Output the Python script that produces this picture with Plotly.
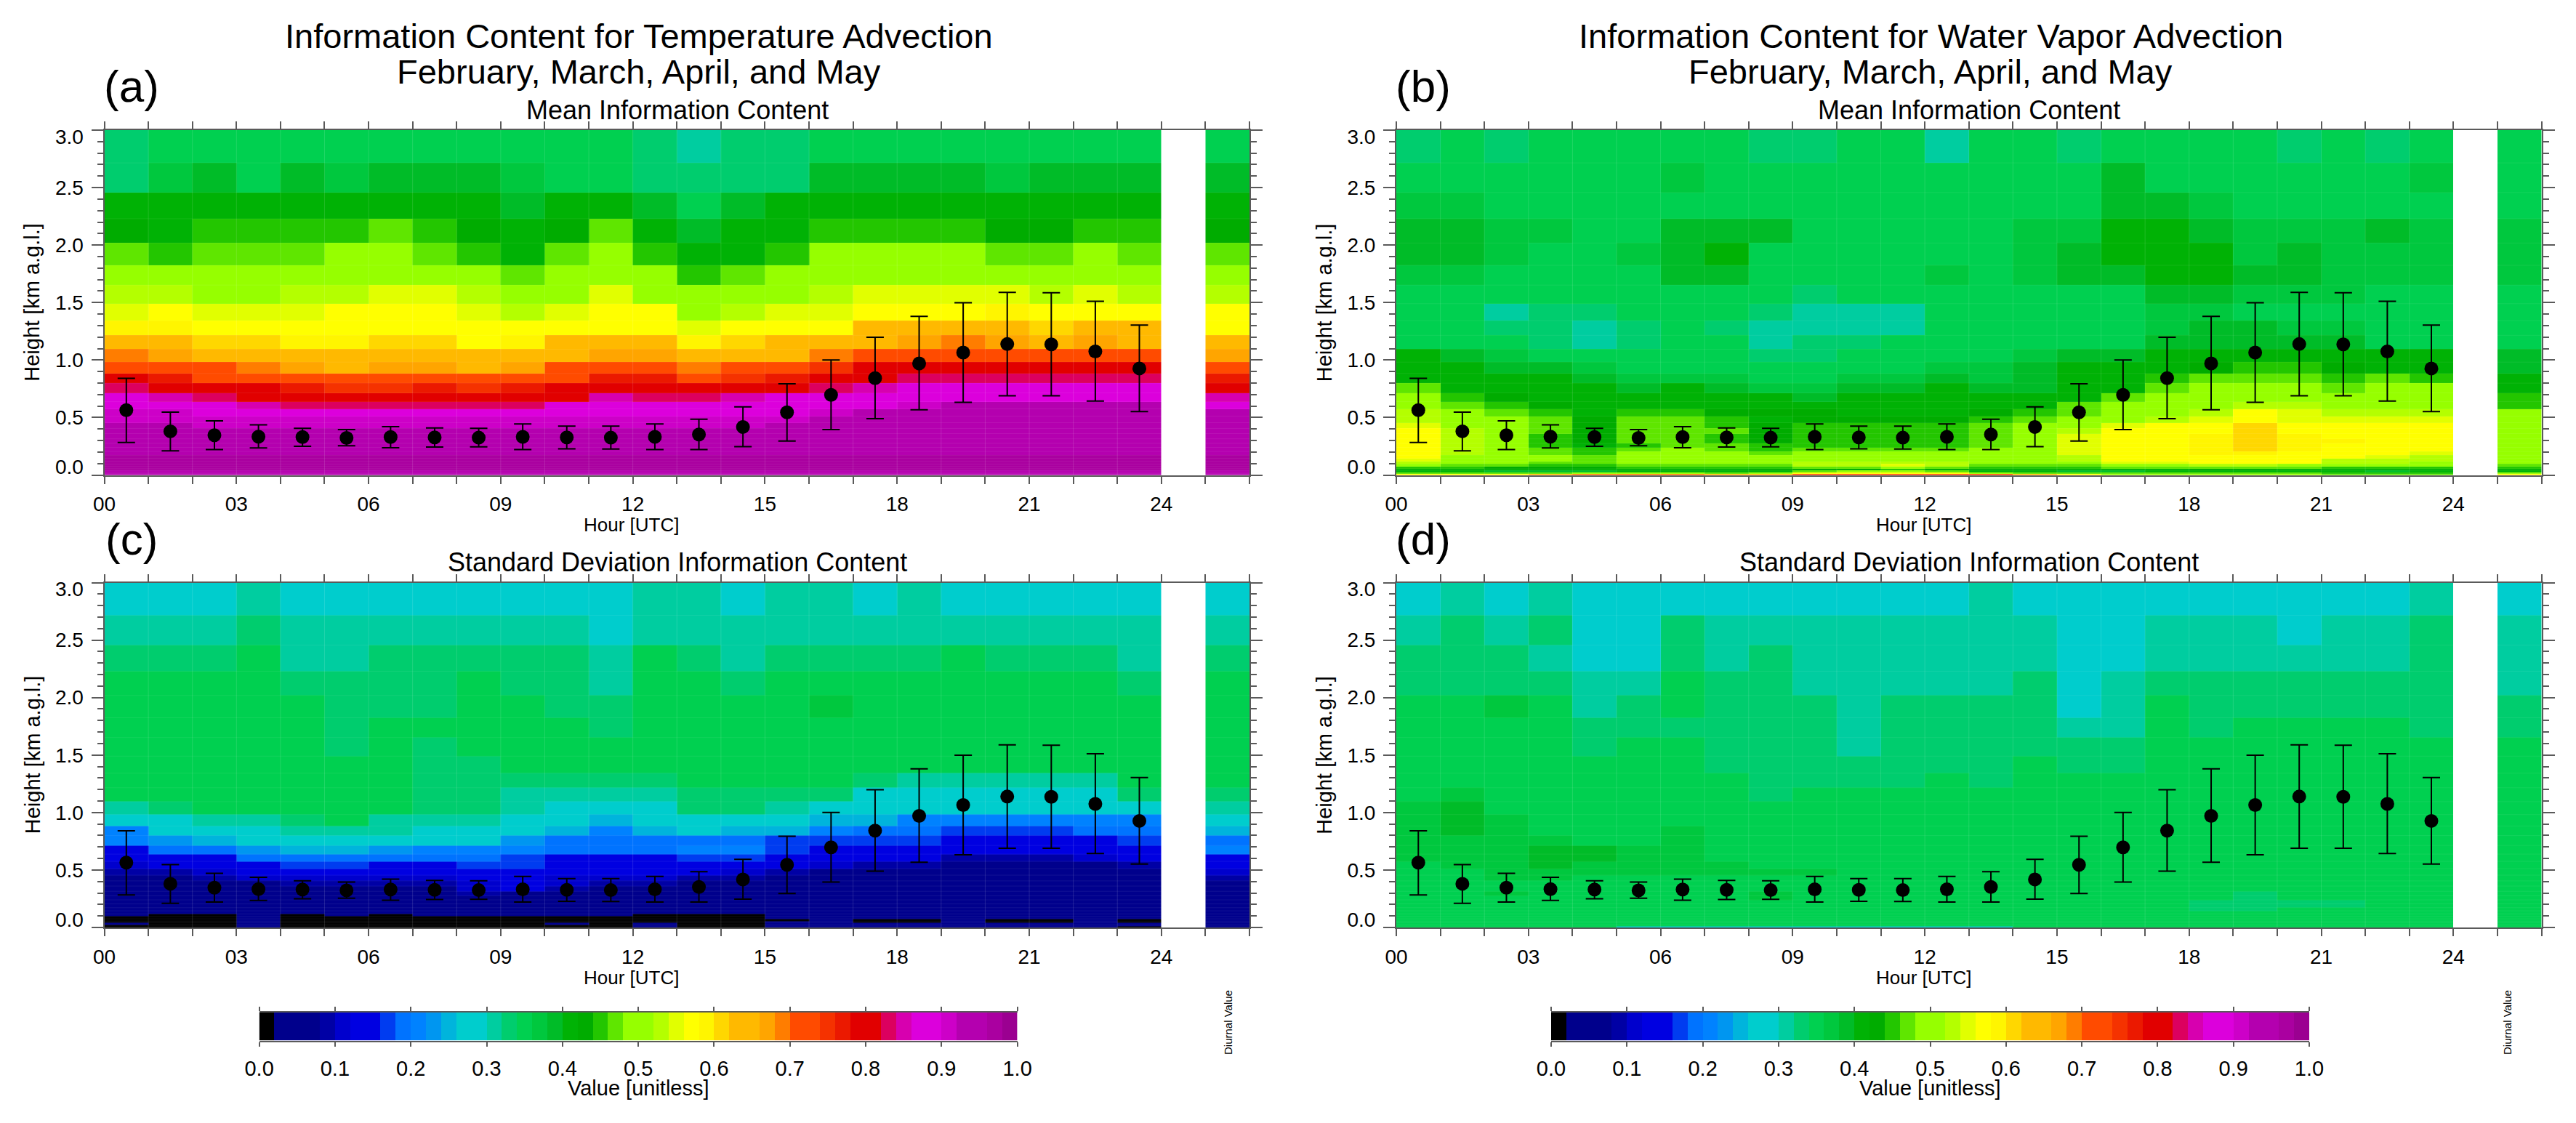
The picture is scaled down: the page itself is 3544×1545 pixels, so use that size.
import plotly.graph_objects as go

W, H = 3544, 1545

# ---------- data ----------
HOUR_EDGES = list(range(27))          # 0..24 hours, gap column, diurnal column
HEIGHT_EDGES = [0, .012, .025, .04, .055, .075, .095, .118, .145, .172, .205, .24, .275, .315, .36, .405, .455,
                .512, .575, .638, .714, .799, .883, .982, 1.094, 1.215, 1.342, 1.49, 1.652, 1.824, 2.018,
                2.229, 2.457, 2.715, 3.0]
X_TICK_LABELS = ["00", "", "", "03", "", "", "06", "", "", "09", "", "", "12", "", "", "15", "", "", "18", "", "", "21", "", "", "24", "", ""]
Y_TICK_LABELS = ["0.0", "0.5", "1.0", "1.5", "2.0", "2.5", "3.0"]
CB_TICKS = [0, .1, .2, .3, .4, .5, .6, .7, .8, .9, 1.0]
CB_LABELS = ["0.0", "0.1", "0.2", "0.3", "0.4", "0.5", "0.6", "0.7", "0.8", "0.9", "1.0"]

DOT_X = [.5, 1.5, 2.5, 3.5, 4.5, 5.5, 6.5, 7.5, 8.5, 9.5, 10.5, 11.5, 12.5, 13.5, 14.5, 15.5, 16.5, 17.5, 18.5, 19.5, 20.5, 21.5, 22.5, 23.5]
DOT_MEAN = [.564, .38, .346, .334, .33, .323, .33, .327, .325, .332, .327, .325, .332, .353, .418, .545, .697, .843, .97, 1.065, 1.139, 1.137, 1.075, .927]
DOT_HIGH = [.841, .547, .471, .437, .406, .395, .42, .41, .406, .444, .425, .425, .444, .486, .592, .794, 1.001, 1.198, 1.38, 1.498, 1.589, 1.585, 1.511, 1.304]
DOT_LOW = [.283, .211, .222, .235, .249, .254, .237, .243, .245, .222, .228, .226, .222, .222, .247, .296, .395, .49, .568, .632, .689, .689, .644, .551]

PALETTE = ["rgb(0,0,0)", "rgb(0,0,140)", "rgb(0,0,140)", "rgb(0,0,140)", "rgb(0,0,165)", "rgb(0,0,205)", "rgb(0,0,225)", "rgb(0,0,225)",
           "rgb(0,60,240)", "rgb(0,115,255)", "rgb(0,130,255)", "rgb(0,150,240)", "rgb(0,180,220)", "rgb(0,205,205)", "rgb(0,205,205)",
           "rgb(0,205,160)", "rgb(0,205,110)", "rgb(0,208,80)", "rgb(0,200,62)", "rgb(0,188,40)", "rgb(0,178,5)", "rgb(0,172,0)",
           "rgb(35,198,0)", "rgb(95,230,0)", "rgb(150,255,0)", "rgb(150,255,0)", "rgb(180,255,0)", "rgb(225,255,0)", "rgb(255,255,0)", "rgb(255,245,0)",
           "rgb(255,215,0)", "rgb(255,185,0)", "rgb(255,185,0)", "rgb(255,165,0)", "rgb(255,125,0)", "rgb(255,75,0)", "rgb(255,75,0)",
           "rgb(245,50,0)", "rgb(235,25,0)", "rgb(225,0,0)", "rgb(225,0,0)", "rgb(220,0,95)", "rgb(215,0,175)", "rgb(220,0,220)", "rgb(220,0,220)",
           "rgb(205,0,200)", "rgb(180,0,175)", "rgb(180,0,175)", "rgb(170,0,160)", "rgb(155,0,145)"]
CB_VALUES = [1, 3, 5, 7, 9, 11, 13, 15, 17, 19, 21, 23, 25, 27, 29, 31, 33, 35, 37, 39, 41, 43, 45, 47, 49,
             51, 53, 55, 57, 59, 61, 63, 65, 67, 69, 71, 73, 75, 77, 79, 81, 83, 85, 87, 89, 91, 93, 95, 97, 99]

# Rows run from the top band (3.0 km) to the surface, 24 hours then the diurnal value; values in hundredths.
TEMP_MEAN = [
[33,35,35,35,35,35,35,35,35,35,35,35,33,30,32,32,35,35,35,35,35,35,35,35,35],
[33,37,39,35,39,37,39,39,39,37,35,35,33,33,33,33,39,39,39,39,37,39,39,39,39],
[41,41,41,41,41,41,41,41,41,39,41,41,39,35,39,41,41,41,41,41,41,41,41,41,41],
[43,41,45,45,45,45,47,45,43,41,43,47,41,39,41,41,45,45,45,45,43,43,45,45,43],
[47,45,47,47,47,49,49,47,45,41,47,49,45,41,41,45,49,49,49,49,47,47,49,47,47],
[49,49,49,49,49,49,49,49,49,47,49,49,49,45,47,49,49,49,49,49,49,49,49,49,49],
[53,53,51,51,53,53,55,55,53,49,51,55,51,49,49,49,53,55,55,55,55,53,55,53,53],
[55,57,55,55,55,57,57,57,55,53,55,57,57,51,53,55,55,57,57,57,59,57,57,57,57],
[59,59,57,57,57,57,57,57,57,57,57,57,57,55,57,57,57,63,63,63,63,61,63,63,57],
[63,63,61,61,59,59,61,61,57,59,63,63,63,59,61,63,63,65,67,69,67,65,67,65,63],
[69,67,63,63,63,63,63,63,63,65,63,67,67,65,65,65,69,71,73,71,73,71,71,71,67],
[71,71,71,69,67,65,67,67,65,67,71,71,71,69,71,73,75,79,79,79,79,79,79,79,71],
[81,77,73,73,73,71,71,71,71,71,71,77,77,73,75,77,81,81,83,83,83,83,83,83,77],
[83,79,79,79,77,75,75,77,75,77,79,79,79,79,79,79,83,85,87,87,87,87,87,87,81],
[87,85,83,79,79,79,79,79,79,79,81,85,83,83,85,87,87,87,87,87,87,87,87,87,85],
[87,87,87,85,83,83,83,83,83,83,87,87,87,87,87,87,87,87,91,93,93,93,93,93,87],
[91,91,87,87,87,87,87,87,87,87,87,87,87,87,87,87,91,93,93,93,93,93,93,93,93],
[91,91,91,91,91,91,91,91,91,91,91,91,91,91,91,91,93,93,93,93,93,93,93,93,93],
[93,93,91,91,91,91,91,91,91,91,91,91,91,91,91,93,93,93,93,93,93,93,93,93,93],
[93,93,93,93,93,93,93,93,93,93,93,93,93,93,93,93,93,93,93,93,93,93,93,93,93],
[93,93,93,93,93,93,93,93,93,93,93,93,93,93,93,93,93,93,93,93,93,93,93,93,93],
[93,93,93,93,93,93,93,93,93,93,93,93,93,93,93,93,93,93,93,93,93,93,93,93,93],
[93,93,93,93,93,93,93,93,93,93,93,93,93,93,93,93,93,93,93,93,93,93,93,93,93],
[93,93,93,93,93,93,93,93,93,93,93,93,93,93,93,93,93,93,93,93,93,93,93,93,93],
[95,95,95,95,95,95,95,95,95,95,95,95,95,95,95,95,95,95,95,95,95,95,95,95,95],
[97,97,97,97,97,97,97,97,97,97,97,97,97,97,97,97,97,97,97,97,97,97,97,97,97],
[97,97,97,97,97,97,97,97,97,97,97,97,97,97,97,97,97,97,97,97,97,97,97,97,97],
[97,97,97,97,97,97,97,97,97,97,97,97,97,97,97,97,97,97,97,97,97,97,97,97,97],
[97,97,97,97,97,97,97,97,97,97,97,97,97,97,97,97,97,97,97,97,97,97,97,97,97],
[97,97,97,97,97,97,97,97,97,97,97,97,97,97,97,97,97,97,97,97,97,97,97,97,97],
[97,97,97,97,97,97,97,97,97,97,97,97,97,97,97,97,97,97,97,97,97,97,97,97,97],
[95,95,95,95,95,95,95,95,95,95,95,95,95,95,95,95,95,95,95,95,95,95,95,95,95],
[95,95,95,95,95,95,95,95,95,95,95,95,95,95,95,95,95,95,95,95,95,95,95,95,95],
[93,93,93,93,93,93,93,93,93,93,93,93,93,93,93,93,93,93,93,93,93,93,93,93,93],
]

WV_MEAN = [
[33,35,33,35,35,35,35,35,33,33,35,35,31,35,35,33,35,35,35,35,33,35,33,35,35],
[35,35,35,35,35,35,37,35,35,35,35,35,35,35,35,35,39,35,35,35,35,35,35,37,35],
[37,37,35,35,35,35,35,35,35,35,35,35,35,35,35,35,39,39,37,35,35,35,35,35,35],
[39,39,37,37,35,35,39,39,39,35,35,35,35,35,37,37,41,41,39,37,37,37,39,37,37],
[39,39,37,35,35,37,39,41,35,35,35,35,35,35,37,39,41,41,41,37,39,37,37,37,37],
[37,37,35,35,35,35,39,39,35,35,35,35,37,35,37,39,39,41,41,39,39,37,37,37,37],
[35,35,35,35,35,35,35,35,35,33,35,35,35,35,35,35,35,39,39,37,37,37,35,35,35],
[35,35,31,33,33,35,35,35,33,31,31,31,35,35,35,35,35,37,37,35,35,35,35,35,35],
[35,35,33,33,31,33,35,33,31,31,31,31,35,35,35,35,35,37,39,39,37,37,35,35,35],
[35,35,35,33,31,33,35,35,31,33,33,35,35,35,35,35,35,39,39,39,39,39,35,35,35],
[41,39,37,35,35,35,35,35,33,33,35,35,35,35,37,39,39,41,41,41,41,41,41,41,39],
[41,41,39,39,37,35,35,35,35,35,35,35,37,37,39,41,41,41,43,45,45,43,41,41,39],
[41,41,41,41,39,37,37,37,35,35,37,37,39,37,39,41,41,45,47,47,47,45,47,45,41],
[47,41,41,41,41,39,41,39,37,37,39,39,41,39,39,41,41,47,49,49,49,47,49,49,41],
[49,45,43,41,41,41,41,41,41,39,41,41,41,41,41,41,47,49,49,49,49,49,49,49,45],
[51,47,45,43,41,41,41,41,41,41,41,41,41,41,41,47,49,49,49,53,53,51,51,51,45],
[53,49,47,45,41,45,45,43,43,43,41,41,41,43,45,47,49,51,53,57,55,53,53,53,49],
[53,51,49,47,43,47,47,45,41,43,43,43,43,45,47,49,51,53,55,57,55,55,55,55,51],
[55,51,49,47,43,47,47,45,43,45,45,45,45,47,49,51,55,57,57,60,57,57,57,57,51],
[57,53,49,47,43,47,47,47,43,45,45,45,45,47,49,53,57,57,57,61,57,57,57,57,49],
[57,53,49,45,43,47,47,45,43,45,45,45,45,47,49,55,57,57,59,61,59,57,57,57,49],
[57,53,49,45,43,47,47,45,43,45,45,45,45,47,49,55,57,57,59,61,59,59,57,57,49],
[57,53,49,45,41,45,47,47,45,45,45,45,45,47,51,55,57,57,59,61,59,57,57,57,49],
[57,53,49,47,45,47,49,47,45,47,47,47,47,49,51,55,57,57,59,61,59,57,57,57,49],
[57,53,49,47,45,49,49,49,47,49,49,49,49,49,51,55,57,57,59,59,57,57,57,55,49],
[57,51,49,49,47,49,49,49,49,49,49,49,49,49,51,53,57,57,57,57,57,57,55,53,49],
[55,51,49,49,47,49,49,49,49,51,49,49,49,49,49,53,57,57,57,57,57,53,53,53,49],
[53,49,49,47,47,49,49,49,49,53,53,53,53,49,49,51,55,55,57,57,57,53,53,51,49],
[49,47,47,45,45,47,47,47,47,53,53,55,53,47,47,47,49,51,53,53,51,49,49,49,47],
[45,45,43,43,43,45,45,45,45,47,47,49,47,45,45,45,47,47,47,47,47,45,45,45,45],
[41,41,41,41,41,41,41,41,43,43,43,45,43,41,41,41,41,41,43,43,41,41,41,41,41],
[41,41,39,39,39,41,41,41,41,47,49,49,47,41,41,39,39,41,41,41,41,41,39,41,41],
[47,47,47,47,49,49,49,47,49,57,57,57,57,49,47,47,47,47,47,47,47,45,45,45,49],
[57,57,57,63,69,69,69,63,63,71,71,71,71,71,63,57,49,49,49,49,49,47,47,47,57],
]

TEMP_STD = [
[29,29,29,31,29,27,27,29,29,29,27,27,31,31,29,31,31,27,31,27,29,27,29,29,29],
[31,31,31,33,31,31,31,31,31,31,31,29,31,31,31,31,31,31,31,31,31,31,31,31,31],
[33,33,33,35,31,31,33,33,33,33,33,31,35,33,31,33,33,33,33,35,33,33,33,31,33],
[35,35,35,35,33,33,33,33,35,33,33,31,35,35,33,35,35,35,35,35,35,35,35,33,35],
[35,35,35,35,35,33,33,33,35,35,33,33,35,35,35,35,37,35,35,35,35,35,35,35,35],
[35,35,35,35,35,33,35,35,35,35,35,33,35,35,35,35,35,35,35,35,35,35,35,35,35],
[35,35,35,35,35,33,35,33,35,35,35,35,35,35,35,35,35,35,35,35,35,35,35,35,35],
[35,35,35,35,35,35,35,33,33,35,35,35,35,35,35,35,35,35,35,35,35,35,35,35,35],
[35,35,35,35,35,35,35,33,33,33,33,33,33,35,35,35,35,33,31,31,31,31,31,35,35],
[35,35,35,35,35,35,35,33,33,31,31,31,31,33,33,33,33,29,27,27,27,27,29,33,33],
[31,33,35,35,35,35,35,33,33,31,29,27,29,33,33,31,27,27,27,27,27,27,27,27,31],
[27,29,31,31,33,35,31,31,31,27,27,25,27,27,27,27,25,25,21,21,21,21,21,21,27],
[21,27,27,27,31,31,31,29,29,27,25,21,25,27,25,25,21,19,19,17,17,17,19,19,25],
[21,23,25,27,27,27,27,27,27,23,19,19,19,19,19,17,17,17,17,15,15,15,15,17,19],
[13,19,19,23,25,25,23,21,21,21,19,19,19,21,21,17,15,15,15,15,15,15,15,15,21],
[13,15,15,19,19,19,19,19,19,17,15,15,15,17,17,13,13,13,13,9,9,9,11,13,15],
[11,13,13,13,17,17,15,15,17,17,13,13,13,13,13,13,11,9,9,7,7,7,7,9,13],
[9,9,11,13,13,13,13,13,13,13,13,13,13,13,11,9,7,7,7,7,7,7,7,7,11],
[7,7,9,11,11,11,11,11,13,13,11,11,11,9,9,7,7,7,5,5,5,5,5,5,9],
[5,5,7,7,9,9,9,9,11,13,11,9,9,7,7,5,5,5,5,5,5,5,5,5,7],
[5,5,5,5,5,7,7,7,11,13,9,7,7,5,5,5,5,5,5,5,5,5,5,5,5],
[5,5,5,5,5,5,5,5,9,5,5,5,5,5,5,5,5,5,5,5,5,5,5,5,5],
[5,5,5,5,5,5,5,5,5,5,5,5,5,5,5,5,5,5,5,5,5,5,5,5,5],
[5,5,5,5,5,5,5,5,5,5,5,5,5,5,5,5,5,5,5,5,5,5,5,5,5],
[5,5,5,5,5,5,5,5,5,5,5,5,5,5,5,5,5,5,5,5,5,5,5,5,5],
[5,5,5,5,5,5,5,5,5,5,5,5,5,5,5,5,5,5,5,5,5,5,5,5,5],
[5,5,5,5,5,5,5,5,5,5,5,5,5,5,5,5,5,5,5,3,3,5,5,5,5],
[5,1,1,5,1,5,1,5,5,5,5,5,1,1,1,5,5,5,5,5,5,5,5,5,5],
[1,1,1,5,1,1,1,1,1,1,1,1,1,1,1,5,5,5,5,5,5,5,5,5,5],
[1,1,1,5,1,1,1,1,1,1,1,1,1,1,1,1,5,1,1,5,1,1,5,1,5],
[1,1,1,5,1,1,1,1,1,1,1,1,1,1,1,5,5,1,1,5,1,1,5,1,5],
[5,1,1,5,1,1,1,1,1,1,5,1,5,1,1,5,5,5,5,5,5,5,5,5,5],
[1,1,1,5,1,1,1,1,1,1,1,1,5,1,1,5,5,5,5,5,5,5,5,5,5],
[1,1,1,5,1,1,1,1,1,1,1,1,5,1,1,5,5,5,5,5,5,5,5,1,5],
]

WV_STD = [
[27,31,29,31,29,27,29,29,29,27,27,27,27,30,29,27,27,27,29,27,27,29,29,31,27],
[31,33,31,33,29,29,33,31,31,31,31,31,31,31,31,29,29,31,31,31,29,31,31,33,31],
[33,33,33,31,29,29,33,31,33,31,31,31,31,31,31,29,29,31,31,31,31,31,31,33,31],
[33,33,33,33,31,31,35,33,33,31,31,31,31,31,33,29,31,33,33,33,33,33,33,33,31],
[35,35,37,35,31,33,35,33,33,33,31,33,33,33,33,29,31,35,33,33,33,33,33,33,33],
[35,35,35,35,33,33,33,33,33,33,31,33,33,33,33,31,31,35,33,35,35,35,35,33,33],
[35,35,35,35,33,35,35,33,33,33,31,33,33,33,33,33,33,35,35,35,35,35,35,35,35],
[35,35,35,35,35,35,35,33,33,33,33,33,33,33,35,33,33,35,35,35,35,35,35,35,35],
[35,35,35,35,35,35,35,35,33,33,33,33,35,33,35,35,35,35,35,35,35,35,35,35,35],
[35,37,35,35,35,35,35,35,33,35,35,35,35,35,35,35,35,35,35,35,35,35,35,35,35],
[37,39,35,35,35,35,35,35,35,35,35,35,35,35,35,35,35,35,35,35,35,35,35,35,35],
[37,39,37,35,35,35,35,35,35,35,35,35,35,35,35,35,35,35,35,35,35,35,35,35,35],
[37,39,37,35,35,35,37,35,35,35,35,35,35,35,35,35,35,35,35,35,35,35,35,35,35],
[37,37,37,37,35,35,37,35,35,35,35,35,35,35,35,35,35,35,35,35,35,35,35,35,35],
[37,37,37,39,39,37,37,35,35,35,35,35,35,35,35,35,35,35,35,35,35,35,35,35,35],
[37,37,37,39,39,37,37,35,35,35,35,35,35,35,35,35,35,35,35,35,35,35,35,35,35],
[35,37,37,39,37,37,37,37,35,35,35,35,35,35,35,35,35,35,35,35,35,35,35,35,35],
[35,35,37,37,37,37,37,37,37,37,35,35,35,35,35,35,35,35,35,35,35,35,35,35,35],
[35,35,37,37,35,35,35,35,35,35,35,35,35,35,35,35,35,35,35,35,35,35,35,35,35],
[35,35,35,35,35,35,35,35,35,35,35,35,35,35,35,35,35,35,35,35,35,35,35,35,35],
[35,35,35,35,35,35,35,35,35,35,35,35,35,35,35,35,35,35,35,35,35,35,35,35,35],
[35,35,37,35,35,35,35,35,37,35,35,35,35,35,35,35,35,35,35,33,35,35,35,35,35],
[35,35,35,35,35,35,35,35,37,35,35,35,35,35,35,35,35,35,35,33,35,35,35,35,35],
[35,35,35,35,35,35,35,35,35,35,35,35,35,35,35,35,35,35,33,33,33,33,35,35,35],
[35,35,35,35,35,35,35,35,35,35,35,35,35,35,35,35,35,35,33,33,33,33,35,35,35],
[35,35,35,35,35,35,35,35,35,35,35,35,35,35,35,35,35,35,33,33,35,35,35,35,35],
[35,35,35,35,35,35,35,35,35,35,35,35,35,35,35,35,35,35,35,35,35,35,35,35,35],
[35,35,35,35,35,35,35,35,35,35,35,35,35,35,35,35,35,35,35,35,35,35,35,35,35],
[35,35,35,35,35,35,35,35,35,35,35,35,35,35,35,35,35,35,35,35,35,35,35,35,35],
[35,35,35,35,35,35,35,35,35,35,35,35,35,35,35,35,35,35,35,35,35,35,35,35,35],
[35,35,35,35,35,35,35,35,35,35,35,35,35,35,35,35,35,35,35,35,35,35,35,35,35],
[35,35,35,35,35,35,35,35,35,35,35,35,35,35,35,35,35,35,35,35,35,35,35,35,35],
[35,35,35,35,35,35,35,35,35,35,35,35,35,35,35,35,35,35,35,35,35,35,35,35,35],
[35,35,35,35,35,29,29,29,29,29,29,29,29,29,35,35,35,35,35,35,35,35,35,35,35],
]

PANELS = [TEMP_MEAN, WV_MEAN, TEMP_STD, WV_STD]
LETTERS = ["(a)", "(b)", "(c)", "(d)"]
TITLE_1 = ["Information Content for Temperature Advection", "Information Content for Water Vapor Advection"]
TITLE_2 = "February, March, April, and May"
SUB_TITLES = ["Mean Information Content", "Standard Deviation Information Content"]

# ---------- layout helpers ----------
FONT = "Liberation Sans"
AX_LINE = "#5a5a5a"
LEFT = [143.5, 1921.0]
PW = 1575.5
TOPS = [179.0, 801.5]
PH = 474.5
CB_LEFT = [356.6, 2134.0]
CB_W = 1043.0
CB_TOP, CB_BOT = 1392.5, 1431.5


def fx(p):
    return p / W


def fy(p):
    return 1 - p / H


colorscale = []
for i, c in enumerate(PALETTE):
    colorscale += [[i / 50, c], [(i + 1) / 50, c]]

fig = go.Figure()
ann = []


def text(s, x, y, size, angle=0):
    ann.append(dict(text=s, x=fx(x), y=fy(y), xref="paper", yref="paper", showarrow=False, textangle=angle,
                    font=dict(family=FONT, size=size, color="black"), xanchor="center", yanchor="middle"))


layout = {}
for p, rows in enumerate(PANELS):
    col, row = p % 2, p // 2
    n = p + 1
    xa, ya, yl = f"x{n}", f"y{n}", f"y{n + 4}"
    assert len(rows) == len(HEIGHT_EDGES) - 1 and all(len(r) == 25 for r in rows), p
    z = [r[:24] + [None] + r[24:] for r in rows[::-1]]
    fig.add_trace(go.Heatmap(x=HOUR_EDGES, y=HEIGHT_EDGES, z=z, xaxis=xa, yaxis=ya, zmin=0, zmax=100,
                             colorscale=colorscale, showscale=False, hoverongaps=False))
    # faint cell edges visible in the original image
    vx, vy = [], []
    for h in HOUR_EDGES[1:24]:
        vx += [h, h, None]
        vy += [0, 3, None]
    fig.add_trace(go.Scatter(x=vx, y=vy, mode="lines", line=dict(color="rgba(255,255,255,0.13)", width=1),
                             xaxis=xa, yaxis=ya, showlegend=False, hoverinfo="skip"))
    hx, hy = [], []
    for e in HEIGHT_EDGES[1:-1]:
        hx += [0, 24, None, 25, 26, None]
        hy += [e, e, None, e, e, None]
    fig.add_trace(go.Scatter(x=hx, y=hy, mode="lines", line=dict(color="rgba(255,255,255,0.07)", width=1),
                             xaxis=xa, yaxis=ya, showlegend=False, hoverinfo="skip"))
    fig.add_trace(go.Scatter(x=DOT_X, y=DOT_MEAN, mode="markers", xaxis=xa, yaxis=yl, showlegend=False,
                             marker=dict(color="black", size=19),
                             error_y=dict(type="data", symmetric=False,
                                          array=[h - m for h, m in zip(DOT_HIGH, DOT_MEAN)],
                                          arrayminus=[m - l for m, l in zip(DOT_MEAN, DOT_LOW)],
                                          color="black", thickness=2, width=12)))
    dom_x = [fx(LEFT[col]), fx(LEFT[col] + PW)]
    dom_y = [fy(TOPS[row] + PH), fy(TOPS[row])]
    layout["xaxis" + str(n)] = dict(domain=dom_x, range=[0, 26], anchor=ya, tickmode="array", tickvals=HOUR_EDGES, ticktext=X_TICK_LABELS,
                                    ticks="outside", ticklen=10, tickwidth=2, tickcolor=AX_LINE, showline=True, linecolor=AX_LINE,
                                    linewidth=2, mirror="ticks", showgrid=False, zeroline=False, ticklabelstandoff=4, automargin=False,
                                    tickfont=dict(family=FONT, size=28, color="black"))
    layout["yaxis" + str(n)] = dict(domain=dom_y, range=[0, 3], anchor=xa, tick0=0, dtick=.5, ticks="outside", ticklen=16,
                                    tickwidth=2, tickcolor=AX_LINE, showline=True, linecolor=AX_LINE, linewidth=2,
                                    mirror="ticks", showgrid=False, zeroline=False, showticklabels=False, automargin=False,
                                    minor=dict(dtick=.1, tick0=0, ticks="outside", ticklen=8, tickwidth=2, tickcolor=AX_LINE, showgrid=False))
    # labels: the two end labels sit just inside the axis, as in the original
    layout["yaxis" + str(n + 4)] = dict(overlaying=ya, anchor=xa, side="left", range=[0, 3], tickmode="array",
                                        tickvals=[.07, .5, 1, 1.5, 2, 2.5, 2.945], ticktext=Y_TICK_LABELS,
                                        ticks="outside", ticklen=22, tickcolor="rgba(0,0,0,0)", showline=False,
                                        showgrid=False, zeroline=False, automargin=False,
                                        tickfont=dict(family=FONT, size=28, color="black"))
    cx = LEFT[col] + 735
    text("Hour [UTC]", LEFT[col] + 725, TOPS[row] + PH + 69, 26)
    text(SUB_TITLES[row], LEFT[col] + 788, TOPS[row] - 28, 36)
    text("Height [km a.g.l.]", LEFT[col] - 99, TOPS[row] + PH / 2, 29, -90)
    text(LETTERS[p], LEFT[col] + 37, TOPS[row] - 60, 62)
    if row == 0:
        text(TITLE_1[col], cx, 50, 47)
        text(TITLE_2, cx, 98, 47)

# colour bars
for c in range(2):
    xn, yn = 5 + c, 9 + c
    fig.add_trace(go.Heatmap(x=[i / 50 for i in range(51)], y=[0, 1], z=[CB_VALUES], xaxis=f"x{xn}", yaxis=f"y{yn}",
                             zmin=0, zmax=100, colorscale=colorscale, showscale=False))
    layout[f"xaxis{xn}"] = dict(domain=[fx(CB_LEFT[c]), fx(CB_LEFT[c] + CB_W)], range=[0, 1], anchor=f"y{yn}", tickmode="array",
                                tickvals=CB_TICKS, ticktext=CB_LABELS, ticks="outside", ticklen=6, tickwidth=2, tickcolor=AX_LINE,
                                showline=True, linecolor=AX_LINE, linewidth=2, mirror="ticks", showgrid=False, zeroline=False,
                                ticklabelstandoff=6, automargin=False, tickfont=dict(family=FONT, size=29, color="black"))
    layout[f"yaxis{yn}"] = dict(domain=[fy(CB_BOT), fy(CB_TOP)], range=[0, 1], anchor=f"x{xn}", showticklabels=False, ticks="",
                                showgrid=False, zeroline=False, showline=False, automargin=False)
    text("Value [unitless]", CB_LEFT[c] + CB_W / 2, 1497, 29)

text("Diurnal Value", 1689, 1407, 15, -90)
text("Diurnal Value", 3449, 1407, 15, -90)

fig.update_layout(template="none", width=W, height=H, autosize=False, margin=dict(l=0, r=0, t=0, b=0, pad=0), paper_bgcolor="white",
                  plot_bgcolor="white", showlegend=False, annotations=ann, **layout)

fig.write_html("out.html", config={"displayModeBar": False},
               post_script="document.body.style.margin='0';document.body.style.overflow='hidden';")
